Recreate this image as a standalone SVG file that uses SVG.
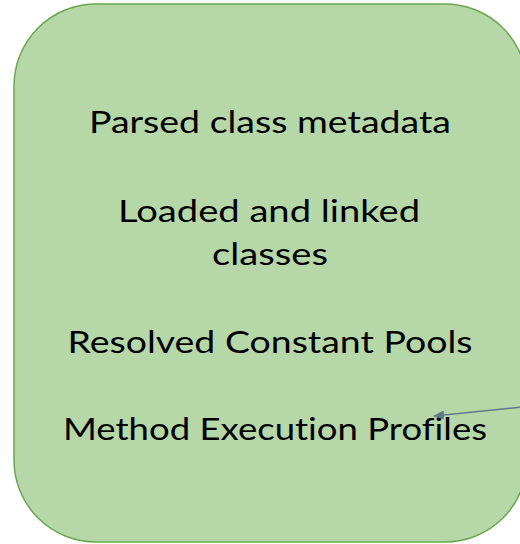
<svg xmlns="http://www.w3.org/2000/svg" width="520" height="544" viewBox="0 0 520 544">
<style>
.box{fill:#b6d7a8;stroke:#6aa84f;stroke-width:1.5}
.t{font-family:Lato,"Open Sans","Liberation Sans",sans-serif;font-size:31px;fill:#000;text-anchor:middle;font-variant-ligatures:none}
.conn{stroke:#5f7a87;stroke-width:1.5;fill:none}
</style>
<defs>
<marker id="ah" markerWidth="11" markerHeight="9" refX="10" refY="4.5" orient="auto" markerUnits="userSpaceOnUse">
<path d="M0,0 L11,4.5 L0,9 z" fill="#5f7a87"/>
</marker>
</defs>
<g id="node-box">
<rect class="box" x="14" y="4" width="513" height="538" rx="82" ry="82"/>
<text class="t" x="270" y="133" textLength="362" lengthAdjust="spacingAndGlyphs">Parsed class metadata</text>
<text class="t" x="269" y="222" textLength="302" lengthAdjust="spacingAndGlyphs">Loaded and linked</text>
<text class="t" x="270" y="265" textLength="116" lengthAdjust="spacingAndGlyphs">classes</text>
<text class="t" x="270" y="353" textLength="405" lengthAdjust="spacingAndGlyphs">Resolved Constant Pools</text>
<text class="t" x="275" y="440" textLength="424" lengthAdjust="spacingAndGlyphs">Method Execution Profiles</text>
</g>
<g id="connectors">
<line class="conn" x1="522" y1="407" x2="434" y2="416" marker-end="url(#ah)"/>
</g>
</svg>
